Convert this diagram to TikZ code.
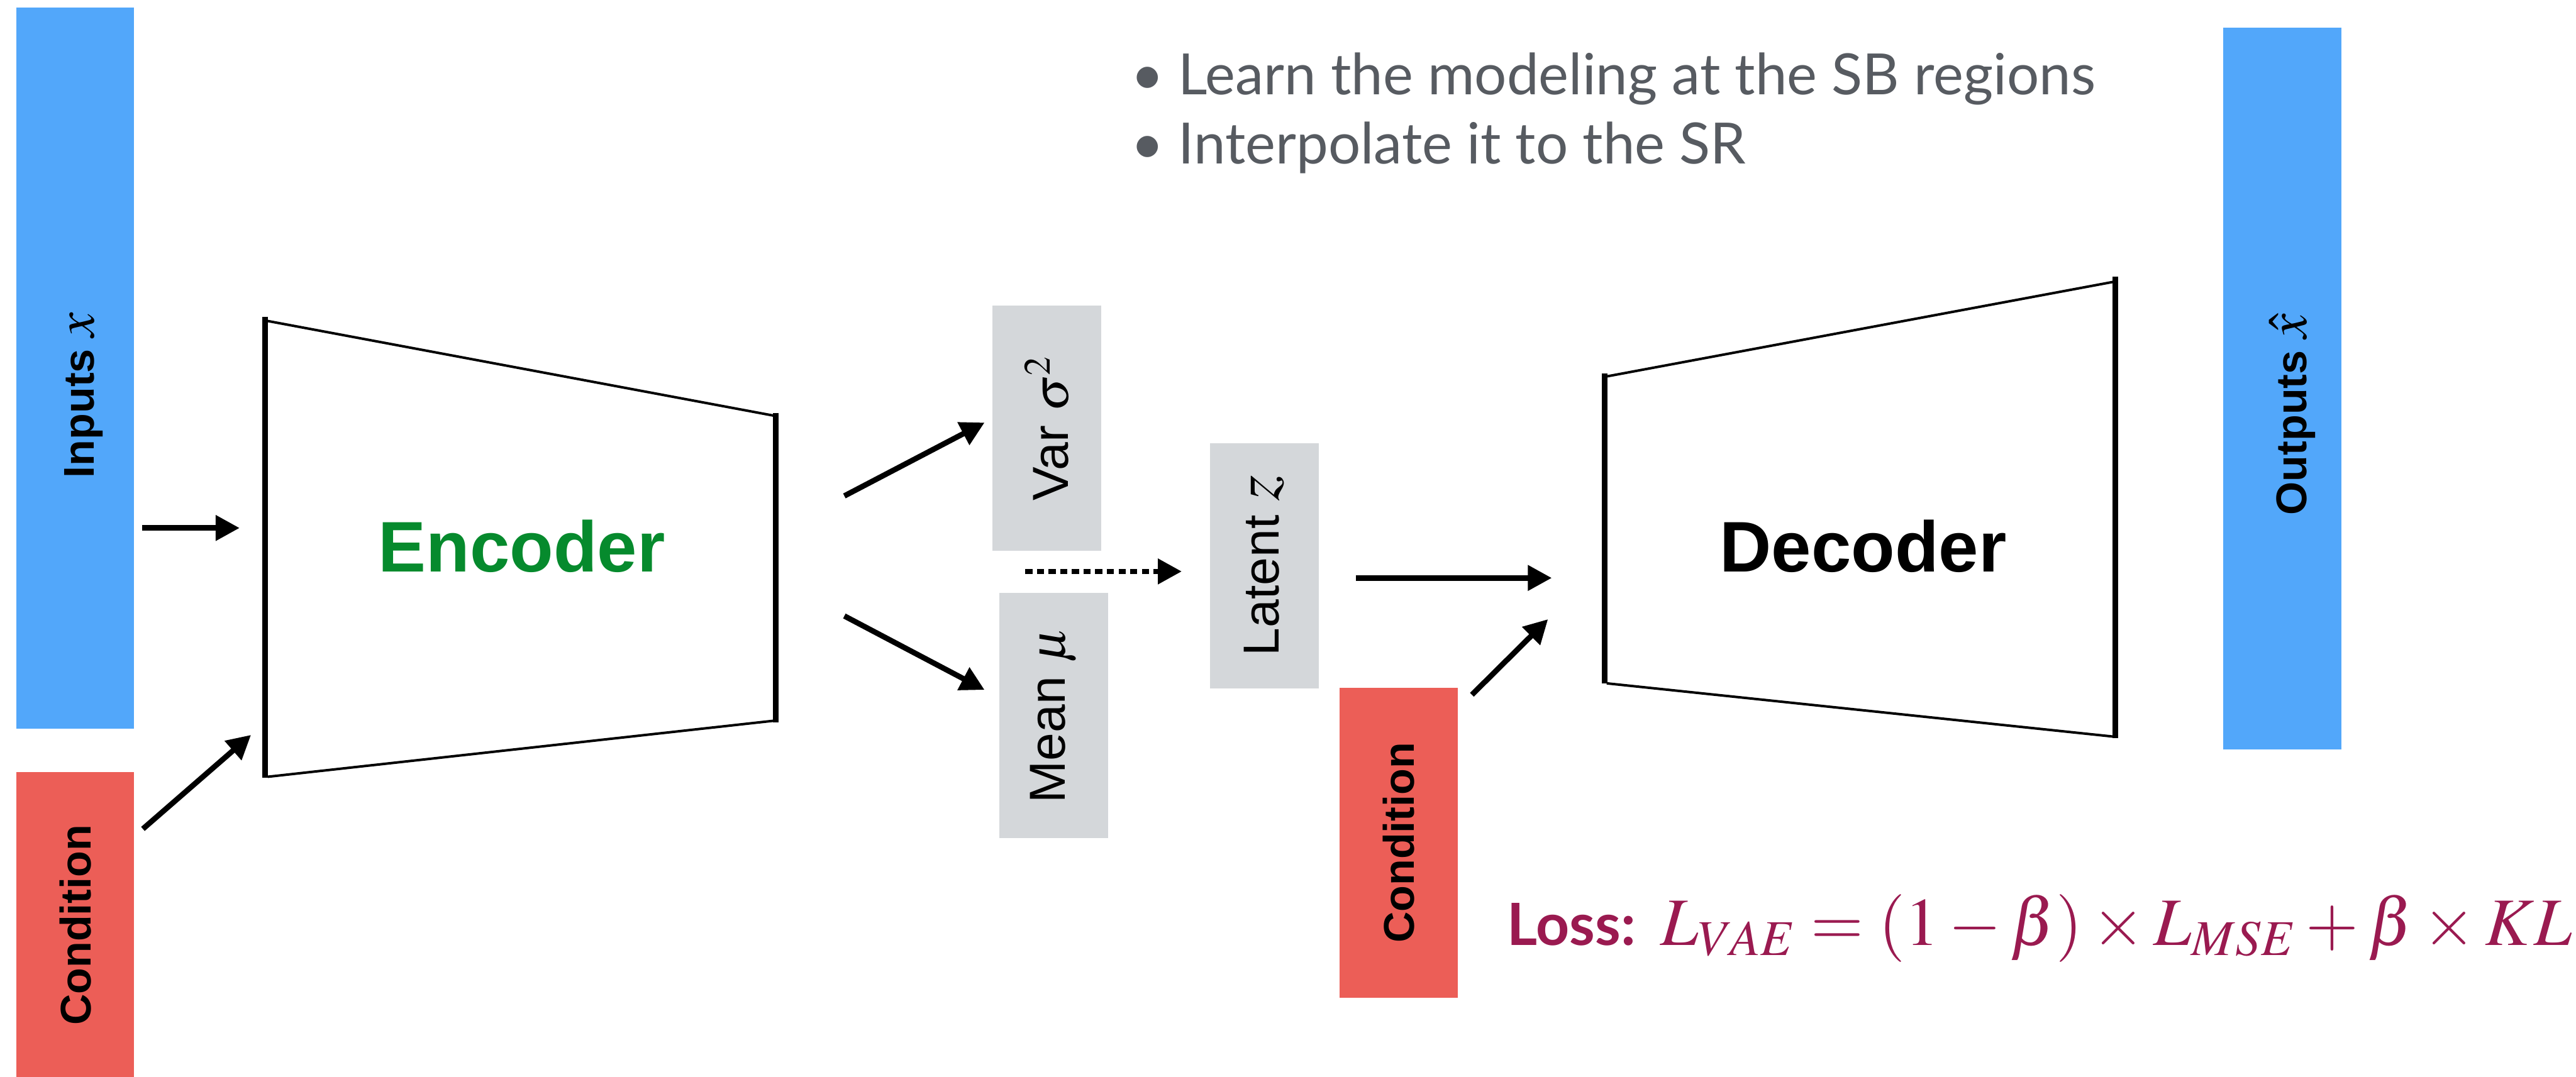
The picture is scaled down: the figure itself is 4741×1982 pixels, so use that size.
\documentclass[tikz,border=0pt]{standalone}
\usepackage{mathptmx}
\usepackage[no-math]{fontspec}
\setmainfont{Liberation Sans}
\newfontfamily\notefont{Lato}
\usetikzlibrary{arrows.meta,positioning,calc}
\definecolor{vaeblue}{HTML}{52A7FA}
\definecolor{vaered}{HTML}{EC5E57}
\definecolor{vaegray}{HTML}{D4D7DA}
\definecolor{vaegreen}{HTML}{068A2D}
\definecolor{vaenote}{HTML}{575B61}
\definecolor{vaeloss}{HTML}{9A1A50}
\newcommand{\bigvar}[2]{{\fontsize{#1}{#1}\selectfont$#2$}}

\begin{document}
\begin{tikzpicture}[x=0.01cm,y=-0.01cm,
  bar/.style={inner sep=0pt,minimum width=2.17cm,font=\fontsize{22.5}{27}\selectfont\bfseries},
  barlabel/.style={inner sep=0pt,rotate=90,font=\fontsize{22.5}{27}\selectfont\bfseries},
  latbox/.style={fill=vaegray,inner sep=0pt,minimum width=2cm,minimum height=4.51cm,font=\fontsize{26.5}{32}\selectfont},
  coder/.style={font=\fontsize{37.5}{45}\selectfont\bfseries},
  rim/.style={line width=1.3pt},
  spine/.style={line width=2.85pt},
  arrow/.style={-{Triangle[length=4.4mm,width=4.5mm]},line width=2.85pt},
  note/.style={anchor=base west,inner sep=0pt,text=vaenote,font=\notefont\fontsize{29.8}{36}\selectfont}
]
\useasboundingbox (0,0) rectangle (4741,1982);

% inputs and conditions
\node[bar,fill=vaeblue,minimum height=13.27cm] (inputs) at (138.5,677.5) {};
\node[barlabel] (inputs-text) at ($(inputs.center)+(15,50)$) {Inputs \bigvar{29}{x}};
\node[bar,fill=vaered,minimum height=5.62cm,below=0.79cm of inputs] (cond) {\rotatebox{90}{Condition}};
\node[bar,fill=vaered,minimum height=5.71cm] (cond2) at (2574.5,1551.5) {\rotatebox{90}{Condition}};
\node[bar,fill=vaeblue,minimum height=13.28cm] (outputs) at (4200.5,715) {};
\node[barlabel] (outputs-text) at ($(outputs.center)+(18,48)$) {Outputs \bigvar{29}{\hat{x}}};

% encoder
\coordinate (enc-tl) at (488,583);
\coordinate (enc-bl) at (488,1432);
\coordinate (enc-tr) at (1428,761);
\coordinate (enc-br) at (1428,1330);
\draw[rim] ($(enc-tl)+(5,8)$) -- ($(enc-tr)+(-5,4)$);
\draw[rim] ($(enc-bl)+(5,-2)$) -- ($(enc-br)+(-5,-3)$);
\draw[spine] (enc-tl) -- (enc-bl);
\draw[spine] (enc-tr) -- (enc-br);
\node[coder,text=vaegreen] (encoder) at (960,1006) {Encoder};

% decoder
\coordinate (dec-tl) at (2953,688);
\coordinate (dec-bl) at (2953,1258);
\coordinate (dec-tr) at (3893,509);
\coordinate (dec-br) at (3893,1359);
\draw[rim] ($(dec-tl)+(4,5)$) -- ($(dec-tr)+(-4,10)$);
\draw[rim] ($(dec-bl)+(4,0)$) -- ($(dec-br)+(-4,-3)$);
\draw[spine] (dec-tl) -- (dec-bl);
\draw[spine] (dec-tr) -- (dec-br);
\node[coder] (decoder) at (3429,1006) {Decoder};

% latent space
\node[latbox] (var) at (1927,788.5) {\rotatebox{90}{Var $\sigma^2$}};
\node[latbox] (mean) at (1939,1317) {\rotatebox{90}{Mean $\mu$}};
\node[latbox] (latent) at (2327,1041.5) {\rotatebox{90}{Latent \bigvar{34}{z}}};

% connectors
\coordinate (in-start) at (262,972);
\coordinate (in-tip) at (441,972);
\coordinate (cond-start) at (263,1526);
\coordinate (cond-tip) at (462,1353);
\coordinate (enc-up) at (1554,913);
\coordinate (var-tip) at (1812,778);
\coordinate (enc-down) at (1554,1134);
\coordinate (mean-tip) at (1812,1270);
\coordinate (sample-start) at (1887,1052);
\coordinate (sample-tip) at (2175,1052);
\coordinate (lat-start) at (2496,1064);
\coordinate (lat-tip) at (2856,1064);
\coordinate (cond2-start) at (2709,1279);
\coordinate (cond2-tip) at (2849,1140);
\draw[arrow] (in-start) -- (in-tip);
\draw[arrow] (cond-start) -- (cond-tip);
\draw[arrow] (enc-up) -- (var-tip);
\draw[arrow] (enc-down) -- (mean-tip);
\draw[arrow,dash pattern=on 3.7pt off 2.4pt] (sample-start) -- (sample-tip);
\draw[arrow] (lat-start) -- (lat-tip);
\draw[arrow] (cond2-start) -- (cond2-tip);

% notes and loss
\node[note] (note1) at (2081,174) {\textbullet\hspace{0.25em}Learn the modeling at the SB regions};
\node[note] (note2) at (2081,302) {\textbullet\hspace{0.25em}Interpolate it to the SR};
\node[anchor=base west,inner sep=0pt,text=vaeloss,font=\fontsize{35.5}{42}\selectfont] (loss) at (2773,1740)
  {{\notefont\fontsize{30.5}{36}\selectfont\bfseries Loss:} $L_{VAE}=(1-\beta)\times L_{MSE}+\beta\times KL$};
\end{tikzpicture}
\end{document}
